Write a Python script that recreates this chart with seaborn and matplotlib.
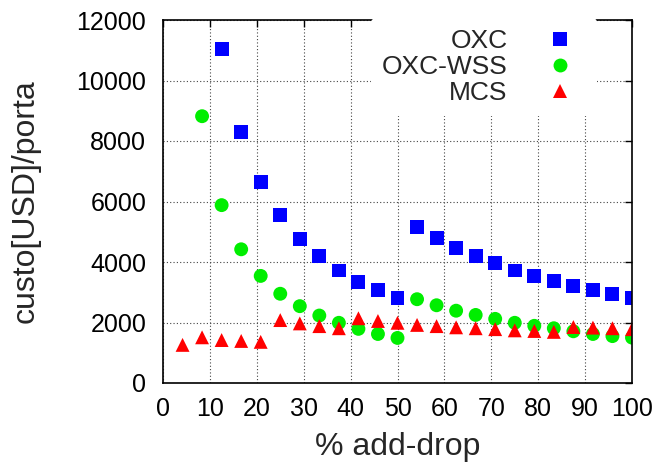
import numpy as np
import pandas as pd
import matplotlib
matplotlib.use('Agg')
import matplotlib.pyplot as plt
import seaborn as sns

# % add-drop steps (multiples of 100/24)
x_oxc = [12.5, 16.67, 20.83, 25.0, 29.17, 33.33, 37.5, 41.67, 45.83, 50.0,
         54.17, 58.33, 62.5, 66.67, 70.83, 75.0, 79.17, 83.33, 87.5, 91.67, 95.83, 100.0]
y_oxc = [11030, 8290, 6630, 5540, 4750, 4200, 3720, 3350, 3060, 2810,
         5150, 4780, 4450, 4190, 3960, 3720, 3530, 3360, 3200, 3060, 2930, 2800]

x_wss = [8.33] + x_oxc
y_wss = [8820, 5880, 4420, 3540, 2950, 2540, 2230, 1990, 1790, 1620, 1490,
         2770, 2570, 2390, 2250, 2120, 1990, 1890, 1810, 1710, 1620, 1550, 1500]

x_mcs = [4.17, 8.33] + x_oxc
y_mcs = [1260, 1510, 1420, 1390, 1360, 2080, 1970, 1880, 1810, 2140, 2050, 1990,
         1920, 1880, 1840, 1810, 1780, 1740, 1720, 1690, 1850, 1830, 1810, 1780]

series = ['OXC', 'OXC-WSS', 'MCS']
colors = {'OXC': '#0000ff', 'OXC-WSS': '#00ee00', 'MCS': '#ff0000'}
markers = {'OXC': 's', 'OXC-WSS': 'o', 'MCS': '^'}

df = pd.concat([
    pd.DataFrame({'x': x_oxc, 'y': y_oxc, 'serie': 'OXC'}),
    pd.DataFrame({'x': x_wss, 'y': y_wss, 'serie': 'OXC-WSS'}),
    pd.DataFrame({'x': x_mcs, 'y': y_mcs, 'serie': 'MCS'}),
])

sns.set_style('white')
plt.rcParams['font.family'] = ['Liberation Sans', 'DejaVu Sans']

fig = plt.figure(figsize=(6.59, 4.67), dpi=100)
ax = fig.add_axes([163 / 659, 1 - 383 / 467, 469 / 659, 363 / 467])

sns.scatterplot(data=df, x='x', y='y', hue='serie', style='serie',
                hue_order=series, style_order=series,
                palette=colors, markers=markers, s=100, linewidth=0, ax=ax)

ax.set_xlim(0, 100)
ax.set_ylim(0, 12000)
ax.set_xticks(range(0, 101, 10))
ax.set_yticks(range(0, 12001, 2000))
ax.grid(True, color='#444444', linestyle=(0, (1, 2)), linewidth=0.8)
ax.set_axisbelow(True)
ax.tick_params(direction='in', top=True, right=True, length=5, width=1,
               labelsize=18, colors='black')
ax.tick_params(axis='y', pad=12)
ax.tick_params(axis='x', pad=10)
for sp in ax.spines.values():
    sp.set_color('black')
    sp.set_linewidth(1.2)

ax.set_xlabel('% add-drop', fontsize=23, labelpad=8)
ax.set_ylabel('custo[USD]/porta', fontsize=23, labelpad=26)

leg = ax.legend(loc='upper right', markerfirst=False, frameon=True,
                fontsize=19, handletextpad=1.0, labelspacing=0.08,
                borderaxespad=0, bbox_to_anchor=(0.926, 1.005))
leg.get_frame().set_facecolor('white')
leg.get_frame().set_edgecolor('none')
leg.get_frame().set_alpha(1)

fig.savefig('out.png', dpi=100)
